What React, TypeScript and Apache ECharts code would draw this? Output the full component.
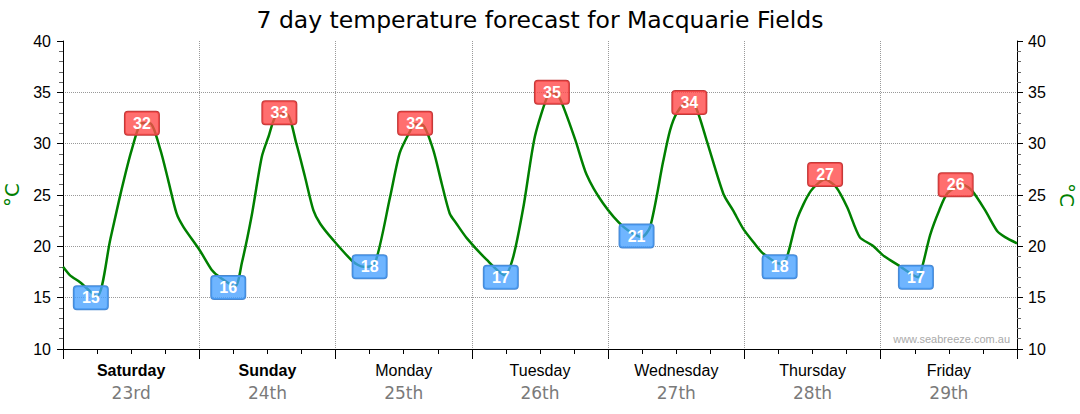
import React, { useEffect, useRef } from "react";
import * as echarts from "echarts";

const title = "7 day temperature forecast for Macquarie Fields";
const dayNames = ["Saturday", "Sunday", "Monday", "Tuesday", "Wednesday", "Thursday", "Friday"];
const dayDates = ["23rd", "24th", "25th", "26th", "27th", "28th", "29th"];
const weekend = [true, true, false, false, false, false, false];

// hours since start of Saturday, and temperature (°C)
const hours = [
  0, 1.2, 3, 6, 8.3, 10.3, 12.1, 13.9, 15.3, 17.1, 18.5, 20.0, 21.2,
  24.1, 26.2, 27.6, 30.3, 31.5, 33.2, 35.0, 36.2, 37.6, 39.4, 41.1, 42.6, 44.1, 45.3, 47.6,
  51.1, 52.9, 54.9, 57.6, 59.3, 61.1, 62.0, 63.4, 65.2, 66.7, 68.1, 69.3, 71.1,
  74.6, 77.8, 79.3, 81.1, 83.1, 85.5, 86.3, 87.5, 90.2, 92.2, 95.1,
  98.7, 101.9, 103.4, 105.7, 106.9, 108.1, 109.8, 111.3, 113.3, 116.3, 118.0, 119.8,
  121.6, 123.3, 126.3, 127.4, 129.3, 131.7, 134.2, 136.1, 138.1, 140.3, 142.5, 144.7,
  147.0, 150.6, 151.4, 152.7, 154.3, 155.8, 158.5, 160.1, 162.4, 164.5, 165.9, 168.0,
];
const temps = [
  18.0, 17.2, 16.5, 15.1, 20.6, 25.5, 29.4, 32.0, 32.0, 29.5, 26.5, 23.2, 21.9,
  19.6, 17.7, 17.0, 16.1, 18.4, 22.9, 28.7, 30.7, 32.8, 32.9, 30.0, 26.8, 23.5, 22.2, 20.6,
  18.5, 18.0, 18.3, 24.8, 29.1, 31.2, 31.9, 31.8, 29.4, 26.1, 23.2, 22.2, 20.8,
  18.7, 17.2, 19.0, 23.9, 30.7, 34.9, 35.0, 34.4, 30.4, 27.0, 24.2,
  21.9, 20.9, 21.9, 28.3, 31.3, 33.0, 34.0, 33.7, 30.4, 25.1, 23.5, 21.7,
  20.4, 19.3, 18.3, 18.8, 22.7, 25.4, 26.5, 25.8, 23.8, 20.9, 20.1, 19.0,
  18.2, 17.0, 18.2, 21.1, 23.5, 25.2, 26.0, 25.4, 23.5, 21.5, 20.9, 20.3,
];

const highValues = [32, 33, 32, 35, 34, 27, 26];
const highHours = [13.9, 38.1, 62.0, 86.1, 110.3, 134.2, 157.2];
const lowValues = [15, 16, 18, 17, 21, 18, 17];
const lowHours = [4.9, 29.1, 54.0, 77.1, 101.0, 126.2, 150.2];

const yTicks = { min: 10, max: 40, interval: 5 };
const xRange = { min: 0, max: 168, interval: 24 };

export default function App() {
  const ref = useRef<HTMLDivElement>(null);
  useEffect(() => {
    if (!ref.current) return;
    const chart = echarts.init(ref.current, null, { renderer: "svg" });
    const seriesData = hours.map((h, i) => [h, temps[i]]);
    const boxLabel = (bg: string, border: string) => ({
      show: true,
      position: "inside",
      formatter: (p: any) => String(p.value),
      color: "#fff",
      fontFamily: "Liberation Sans",
      fontSize: 16,
      fontWeight: "bold",
      backgroundColor: bg,
      borderColor: border,
      borderWidth: 1,
      borderRadius: 3,
      width: 34,
      align: "center",
      verticalAlign: "middle",
      lineHeight: 18,
      padding: [3, 0, 2, 0],
    });
    const axisFont = { fontFamily: "Liberation Sans", fontSize: 16, color: "#000" };
    const yBase = (pos: "left" | "right") => ({
      type: "value",
      position: pos,
      min: yTicks.min,
      max: yTicks.max,
      interval: yTicks.interval,
      name: "°C",
      nameLocation: "middle",
      nameGap: 39,
      nameRotate: pos === "left" ? 90 : -90,
      nameTextStyle: { color: "#008000", fontSize: 20, fontFamily: "DejaVu Sans" },
      axisLine: { show: true, lineStyle: { color: "#000", width: 1 } },
      axisTick: { show: true, length: 6, lineStyle: { color: "#000" } },
      minorTick: { show: true, splitNumber: 5, length: 4, lineStyle: { color: "#666" } },
      axisLabel: { ...axisFont, margin: pos === "left" ? 12 : 11 },
      splitLine: {
        show: pos === "left",
        showMinLine: false,
        showMaxLine: false,
        lineStyle: { color: "#999", type: "dotted", width: 1 },
      },
    });
    chart.setOption({
      animation: false,
      backgroundColor: "#fff",
      title: {
        text: title,
        left: "center",
        top: 3,
        textStyle: { fontFamily: "DejaVu Sans", fontSize: 23.5, fontWeight: "normal", color: "#000" },
      },
      grid: { left: 63, right: 63, top: 41, bottom: 65, containLabel: false, outerBoundsMode: "none" },
      xAxis: [
        {
          type: "value",
          min: xRange.min,
          max: xRange.max,
          interval: xRange.interval,
          axisLine: { show: true, onZero: false, lineStyle: { color: "#000", width: 1 } },
          axisTick: { show: true, length: 10, lineStyle: { color: "#000" } },
          minorTick: { show: true, splitNumber: 4, length: 5, lineStyle: { color: "#000" } },
          axisLabel: { show: false },
          splitLine: {
            show: true,
            showMinLine: false,
            showMaxLine: false,
            lineStyle: { color: "#999", type: "dotted", width: 1 },
          },
        },
        {
          type: "category",
          position: "bottom",
          data: dayNames,
          boundaryGap: true,
          axisLine: { show: false },
          axisTick: { show: false },
          splitLine: { show: false },
          axisLabel: {
            margin: 10,
            interval: 0,
            formatter: (value: string, index: number) =>
              `{${weekend[index] ? "wd" : "d"}|${value}}\n{dt|${dayDates[index]}}`,
            rich: {
              d: { fontFamily: "Liberation Sans", fontSize: 16, color: "#000", lineHeight: 22 },
              wd: { fontFamily: "Liberation Sans", fontSize: 16, fontWeight: "bold", color: "#000", lineHeight: 22 },
              dt: { fontFamily: "DejaVu Sans", fontSize: 17, color: "#7a7a7a", lineHeight: 24 },
            },
          },
        },
      ],
      yAxis: [yBase("left"), yBase("right")],
      graphic: [
        {
          type: "text",
          right: 70,
          top: 333,
          style: {
            text: "www.seabreeze.com.au",
            fill: "#aaa",
            fontFamily: "Liberation Sans",
            fontSize: 11,
          },
        },
      ],
      series: [
        {
          type: "line",
          xAxisIndex: 0,
          yAxisIndex: 0,
          data: seriesData,
          showSymbol: false,
          smooth: 0.25,
          lineStyle: { color: "#008000", width: 2.5 },
          itemStyle: { color: "#008000" },
          markPoint: {
            symbol: "circle",
            symbolSize: 1,
            itemStyle: { color: "rgba(0,0,0,0)" },
            data: [
              ...highValues.map((v, i) => ({
                coord: [highHours[i], v],
                value: v,
                label: boxLabel("rgba(255,75,75,0.8)", "#c03a3a"),
              })),
              ...lowValues.map((v, i) => ({
                coord: [lowHours[i], v],
                value: v,
                label: boxLabel("rgba(70,160,255,0.78)", "#4a88d0"),
              })),
            ],
          },
        },
      ],
    });
    return () => chart.dispose();
  }, []);
  return (
    <div
      ref={ref}
      style={{ position: "absolute", left: 0, top: 0, width: 1080, height: 414 }}
    />
  );
}
